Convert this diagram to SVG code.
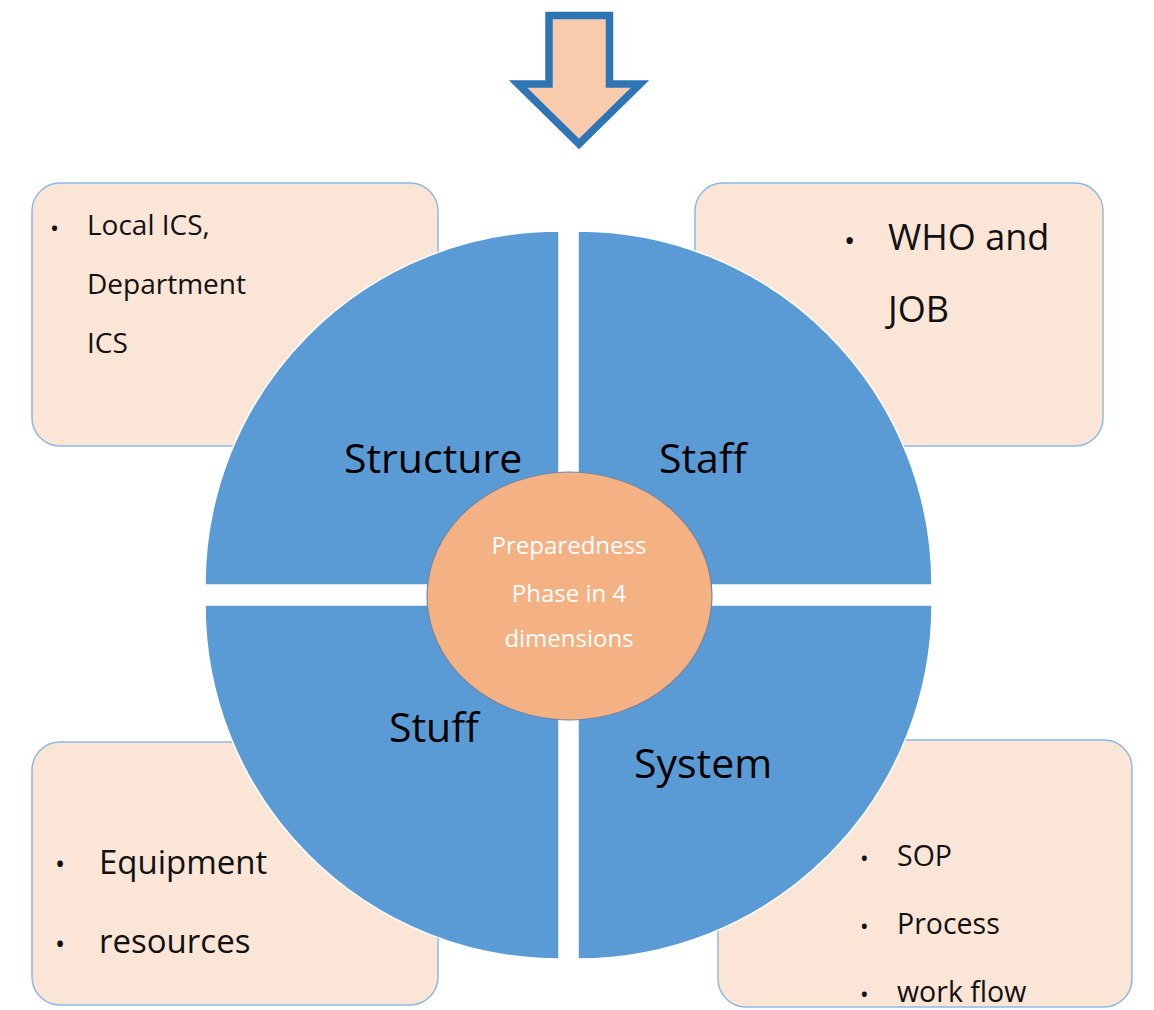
<svg xmlns="http://www.w3.org/2000/svg" width="1154" height="1010" viewBox="0 0 1154 1010">
<style>
.box{fill:#fbe5d6;stroke:#8fb9e3;stroke-width:1.5}
.quad{fill:#5b9bd5;stroke:#ffffff;stroke-width:1.5}
.lbl{font-family:"Open Sans","Noto Sans",sans-serif;font-size:41px;fill:#000}
.t{font-family:"Open Sans","Noto Sans",sans-serif;fill:#111}
.ctr{font-family:"Open Sans","Noto Sans",sans-serif;font-size:24px;fill:#fff;text-anchor:middle}
</style>
<rect width="1154" height="1010" fill="#fff"/>
<g id="arrow">
<polygon points="549,15.5 609.5,15.5 609.5,84 640,84 579,144 518,84 549,84" fill="#f8cbad" stroke="#2e75b6" stroke-width="7.5" stroke-linejoin="miter"/>
</g>
<g id="box-structure">
<rect class="box" x="32" y="183" width="406" height="263" rx="28"/>
<text class="t" x="50" y="237" font-size="24">•</text>
<text class="t" x="87" y="235" font-size="28">Local ICS,</text>
<text class="t" x="87" y="294" font-size="28">Department</text>
<text class="t" x="87" y="353" font-size="28">ICS</text>
</g>
<g id="box-staff">
<rect class="box" x="695" y="183" width="408" height="263" rx="28"/>
<text class="t" x="844" y="251" font-size="30">•</text>
<text class="t" x="888" y="250" font-size="36">WHO and</text>
<text class="t" x="888" y="322" font-size="36">JOB</text>
</g>
<g id="box-stuff">
<rect class="box" x="32" y="742" width="406" height="263" rx="28"/>
<text class="t" x="55" y="874" font-size="27">•</text>
<text class="t" x="55" y="954" font-size="27">•</text>
<text class="t" x="99" y="874" font-size="33">Equipment</text>
<text class="t" x="99" y="953" font-size="33">resources</text>
</g>
<g id="box-system">
<rect class="box" x="718" y="740" width="414" height="267" rx="28"/>
<text class="t" x="860" y="867" font-size="23">•</text>
<text class="t" x="860" y="935" font-size="23">•</text>
<text class="t" x="860" y="1003" font-size="23">•</text>
<text class="t" x="897" y="866" font-size="28.5">SOP</text>
<text class="t" x="897" y="934" font-size="28.5">Process</text>
<text class="t" x="897" y="1002" font-size="28.5">work flow</text>
</g>
<g id="quad-structure">
<path class="quad" d="M559,585 L205,585 A354,354 0 0 1 559,231 Z"/>
<text class="lbl" x="344" y="473">Structure</text>
</g>
<g id="quad-staff">
<path class="quad" d="M578,585 L578,231 A354,354 0 0 1 932,585 Z"/>
<text class="lbl" x="659" y="473">Staff</text>
</g>
<g id="quad-system">
<path class="quad" d="M578,605 L932,605 A354,354 0 0 1 578,959 Z"/>
<text class="lbl" x="634" y="778">System</text>
</g>
<g id="quad-stuff">
<path class="quad" d="M559,605 L559,959 A354,354 0 0 1 205,605 Z"/>
<text class="lbl" x="389" y="742">Stuff</text>
</g>
<g id="center">
<ellipse cx="569.5" cy="596" rx="142.5" ry="124" fill="#f4b183" stroke="#6f87a6" stroke-width="1.2"/>
<text class="ctr" x="569" y="554">Preparedness</text>
<text class="ctr" x="569" y="602">Phase in 4</text>
<text class="ctr" x="569" y="647">dimensions</text>
</g>
<g id="connectors"></g>
</svg>
